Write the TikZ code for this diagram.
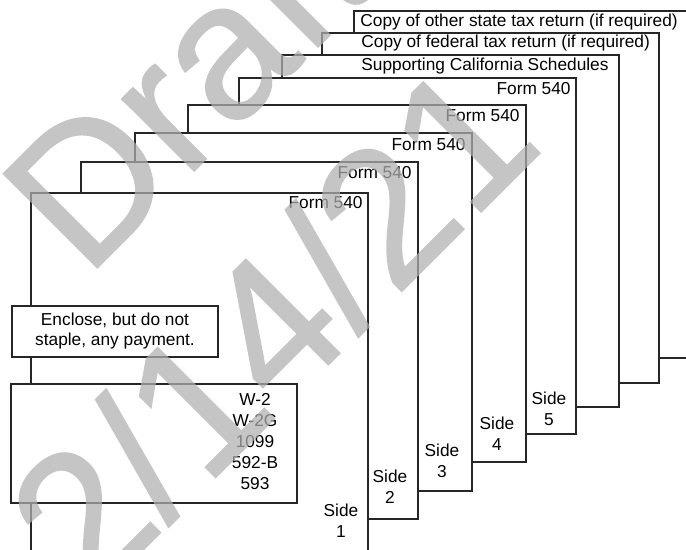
\documentclass[tikz,border=0pt]{standalone}
\usepackage{fontspec}
\setmainfont{Liberation Sans}
\newfontfamily\wmfont[FakeBold=0.8]{Liberation Sans}
\begin{document}
\begin{tikzpicture}[x=0.5pt,y=-0.5pt,
    sheet/.style={draw=black!85,line width=0.7pt,fill=white},
    txt/.style={inner sep=0pt,font=\fontsize{8.65}{10.5}\selectfont},
    wmark/.style={text=black!31,inner sep=0pt,rotate=45,anchor=base,
      font=\wmfont\fontsize{96.5}{96.5}\selectfont}]
  \useasboundingbox (0,0) rectangle (686,550);
  \clip (0,0) rectangle (686,550);
  % sheets, from the back to the front
  \draw[sheet] (354,11) rectangle (700,358);
  \draw[sheet] (322,33) rectangle (659,383);
  \draw[sheet] (282,55) rectangle (619,407);
  \draw[sheet] (239,78) rectangle (576,434);
  \draw[sheet] (188,105) rectangle (526,462);
  \draw[sheet] (135,133) rectangle (472,491);
  \draw[sheet] (81,162) rectangle (418,519);
  \draw[sheet] (31,193) rectangle (368,565);
  \node[txt,anchor=west] (other) at (360,22) {Copy of other state tax return (if required)};
  \node[txt,anchor=west] (federal) at (361,43) {Copy of federal tax return (if required)};
  \node[txt,anchor=west] (sched) at (361,66) {Supporting California Schedules};
  \node[txt,anchor=east] (form5) at (571,89) {Form 540};
  \node[txt,anchor=east] (form4) at (520,116) {Form 540};
  \node[txt,anchor=east] (form3) at (466,145) {Form 540};
  \node[txt,anchor=east] (form2) at (412,173) {Form 540};
  \node[txt,anchor=east] (form1) at (363,203) {Form 540};
  % side numbers
  \node[txt,align=center] (side1) at (341,521) {Side\\1};
  \node[txt,align=center] (side2) at (390,487) {Side\\2};
  \node[txt,align=center] (side3) at (442,461) {Side\\3};
  \node[txt,align=center] (side4) at (497,434) {Side\\4};
  \node[txt,align=center] (side5) at (549,409) {Side\\5};
  % payment and wage forms
  \node[sheet,minimum width=103pt,minimum height=25.5pt] (pay) at (115,331.5) {};
  \node[txt,align=center,font=\fontsize{8.65}{10}\selectfont] (paytext) at (pay) {Enclose, but do not\\staple, any payment.};
  \draw[sheet] (11,384) rectangle (297,503);
  \node[txt,align=center] (wages) at (255,442) {W-2\\W-2G\\1099\\592-B\\593};
  % watermark
  \begin{scope}[transparency group,opacity=0.73]
    \node[wmark] (draft) at (234,131) {Draft};
    \node[wmark] (date) at (319,374) {2/14/21};
  \end{scope}
\end{tikzpicture}
\end{document}
